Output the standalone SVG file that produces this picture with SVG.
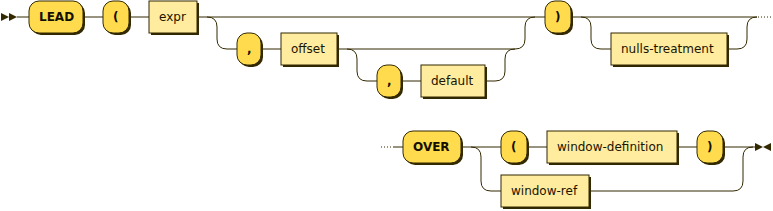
<svg xmlns="http://www.w3.org/2000/svg" width="773" height="211" viewBox="0 0 773 211">
<style>
.line{fill:none;stroke:#332900;stroke-width:1}
.dots{fill:none;stroke:#332900;stroke-width:1;stroke-dasharray:1 2}
.filled{fill:#332900;stroke:none}
.shadow{fill:#332900;stroke:none}
rect.terminal{fill:#FFDB4D;stroke:#332900;stroke-width:1}
rect.nonterminal{fill:#FFEC9E;stroke:#332900;stroke-width:1}
text.terminal{font-family:"DejaVu Sans",Verdana,sans-serif;font-size:12px;fill:#141000;font-weight:bold}
text.nonterminal{font-family:"DejaVu Sans",Verdana,sans-serif;font-size:12px;fill:#1A1400;font-weight:normal}
</style>
<g id="connectors">
<polygon class="filled" points="9 17 1 13 1 21"/>
<polygon class="filled" points="17 17 9 13 9 21"/>
<path class="line" d="M17 17 H29 M83 17 H103 M129 17 H149 M197 17 H545"/>
<path class="line" d="M207 17 q10 0 10 10 v12 q0 10 10 10 H237 M261 49 H281 M337 49 H515"/>
<path class="line" d="M347 49 q10 0 10 10 v12 q0 10 10 10 H377 M401 81 H421 M485 81 H495 q10 0 10 -10 v-12 q0 -10 10 -10"/>
<path class="line" d="M515 49 q10 0 10 -10 v-12 q0 -10 10 -10"/>
<path class="line" d="M571 17 H757 M581 17 q10 0 10 10 v12 q0 10 10 10 H611 M727 49 H737 q10 0 10 -10 v-12 q0 -10 10 -10"/>
<path class="dots" d="M758 17 H773"/>
<path class="dots" d="M381 147 H393"/>
<path class="line" d="M393 147 H403 M461 147 H501 M527 147 H547 M677 147 H697 M723 147 H755"/>
<path class="line" d="M471 147 q10 0 10 10 v24 q0 10 10 10 H501 M589 191 H733 q10 0 10 -10 v-24 q0 -10 10 -10"/>
<polygon class="filled" points="763 147 755 143 755 151"/>
<polygon class="filled" points="763 147 771 143 771 151"/>
</g>
<g id="n-lead"><rect class="shadow" x="31" y="3" width="54" height="32" rx="10"/><rect class="terminal" x="29" y="1" width="54" height="32" rx="10"/><text class="terminal" x="39" y="21">LEAD</text></g>
<g id="n-lparen1"><rect class="shadow" x="105" y="3" width="26" height="32" rx="10"/><rect class="terminal" x="103" y="1" width="26" height="32" rx="10"/><text class="terminal" x="113" y="21">(</text></g>
<g id="n-expr"><rect class="shadow" x="151" y="3" width="48" height="32"/><rect class="nonterminal" x="149" y="1" width="48" height="32"/><text class="nonterminal" x="159" y="21">expr</text></g>
<g id="n-comma1"><rect class="shadow" x="239" y="35" width="24" height="32" rx="10"/><rect class="terminal" x="237" y="33" width="24" height="32" rx="10"/><text class="terminal" x="247" y="53">,</text></g>
<g id="n-offset"><rect class="shadow" x="283" y="35" width="56" height="32"/><rect class="nonterminal" x="281" y="33" width="56" height="32"/><text class="nonterminal" x="291" y="53">offset</text></g>
<g id="n-comma2"><rect class="shadow" x="379" y="67" width="24" height="32" rx="10"/><rect class="terminal" x="377" y="65" width="24" height="32" rx="10"/><text class="terminal" x="387" y="85">,</text></g>
<g id="n-default"><rect class="shadow" x="423" y="67" width="64" height="32"/><rect class="nonterminal" x="421" y="65" width="64" height="32"/><text class="nonterminal" x="431" y="85">default</text></g>
<g id="n-rparen1"><rect class="shadow" x="547" y="3" width="26" height="32" rx="10"/><rect class="terminal" x="545" y="1" width="26" height="32" rx="10"/><text class="terminal" x="555" y="21">)</text></g>
<g id="n-nulls"><rect class="shadow" x="613" y="35" width="116" height="32"/><rect class="nonterminal" x="611" y="33" width="116" height="32"/><text class="nonterminal" x="621" y="53">nulls-treatment</text></g>
<g id="n-over"><rect class="shadow" x="405" y="133" width="58" height="32" rx="10"/><rect class="terminal" x="403" y="131" width="58" height="32" rx="10"/><text class="terminal" x="413" y="151">OVER</text></g>
<g id="n-lparen2"><rect class="shadow" x="503" y="133" width="26" height="32" rx="10"/><rect class="terminal" x="501" y="131" width="26" height="32" rx="10"/><text class="terminal" x="511" y="151">(</text></g>
<g id="n-windef"><rect class="shadow" x="549" y="133" width="130" height="32"/><rect class="nonterminal" x="547" y="131" width="130" height="32"/><text class="nonterminal" x="557" y="151">window-definition</text></g>
<g id="n-rparen2"><rect class="shadow" x="699" y="133" width="26" height="32" rx="10"/><rect class="terminal" x="697" y="131" width="26" height="32" rx="10"/><text class="terminal" x="707" y="151">)</text></g>
<g id="n-winref"><rect class="shadow" x="503" y="177" width="88" height="32"/><rect class="nonterminal" x="501" y="175" width="88" height="32"/><text class="nonterminal" x="511" y="195">window-ref</text></g>
</svg>
